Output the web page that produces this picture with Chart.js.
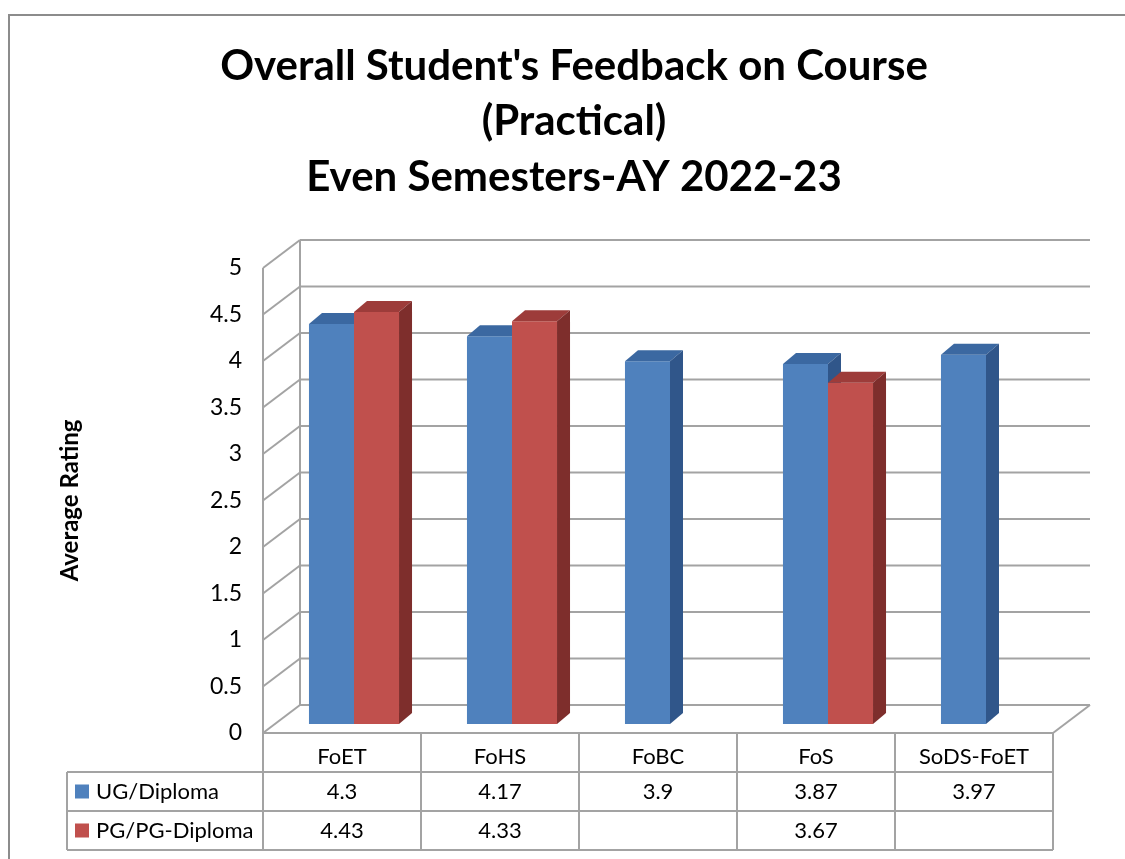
<!DOCTYPE html>
<html>
<head>
<meta charset="utf-8">
<title>Overall Student's Feedback on Course (Practical)</title>
<script src="https://cdn.jsdelivr.net/npm/chart.js@4.4.0/dist/chart.umd.min.js"></script>
<style>
  html, body { margin: 0; padding: 0; background: #fff; }
  canvas { display: block; }
</style>
</head>
<body>
<canvas id="chart" width="1125" height="859"></canvas>
<script>
// data
const categories = ['FoET', 'FoHS', 'FoBC', 'FoS', 'SoDS-FoET'];
const ugValues = [4.3, 4.17, 3.9, 3.87, 3.97];
const pgValues = [4.43, 4.33, null, 3.67, null];
const seriesNames = ['UG/Diploma', 'PG/PG-Diploma'];
const titleLines = ["Overall Student's Feedback on Course", '(Practical)', 'Even Semesters-AY 2022-23'];

const FONT = 'Lato, "Open Sans", "Noto Sans", sans-serif';
const frontColors = ['#4f81bd', '#c0504d'];
const topColors = ['#3b68a1', '#9d3c3a'];
const sideColors = ['#30568a', '#7e2e2c'];
const gridColor = '#a3a3a3';

// depth of the box (back wall) and of the bars
const DX = 37, DY = -28;
const BAR_DX = 12, BAR_DY = -9;
const BAR_DEPTH_X = 13, BAR_DEPTH_Y = -11;

function line(ctx, x1, y1, x2, y2) {
    ctx.beginPath();
    ctx.moveTo(x1, y1);
    ctx.lineTo(x2, y2);
    ctx.stroke();
}

function poly(ctx, pts, color) {
    ctx.beginPath();
    ctx.moveTo(pts[0][0], pts[0][1]);
    for (let i = 1; i < pts.length; i++) ctx.lineTo(pts[i][0], pts[i][1]);
    ctx.closePath();
    ctx.fillStyle = color;
    ctx.fill();
}

const boxPlugin = {
    id: 'box3d',
    beforeDraw(chart) {
        const ctx = chart.ctx;
        ctx.save();
        ctx.fillStyle = '#fff';
        ctx.fillRect(0, 0, chart.width, chart.height);
        // outer chart border
        ctx.strokeStyle = '#8c8c8c';
        ctx.lineWidth = 2;
        ctx.strokeRect(9, 15, chart.width + 20, chart.height + 20);
        // title
        ctx.fillStyle = '#000';
        ctx.font = 'bold 42px ' + FONT;
        ctx.textAlign = 'center';
        ctx.textBaseline = 'middle';
        [66, 121, 177].forEach((y, i) => ctx.fillText(titleLines[i], 574, y));
        ctx.restore();
    },
    beforeDatasetsDraw(chart) {
        const ctx = chart.ctx;
        const {left: L, right: R, top: T, bottom: B} = chart.chartArea;
        const y = chart.scales.y;
        ctx.save();
        ctx.strokeStyle = gridColor;
        ctx.lineWidth = 2;
        y.ticks.forEach(t => {
            const yy = y.getPixelForValue(t.value);
            line(ctx, L + DX, yy + DY, R + DX, yy + DY);
            line(ctx, L, yy, L + DX, yy + DY);
        });
        line(ctx, L, T, L, B);
        line(ctx, L + DX, T + DY, L + DX, B + DY);
        // floor front and right edge
        line(ctx, L, B, R, B);
        line(ctx, R, B, R + DX, B + DY);
        ctx.restore();
    },
    afterDatasetsDraw(chart) {
        const ctx = chart.ctx;
        ctx.save();
        const n = categories.length;
        for (let i = 0; i < n; i++) {
            chart.data.datasets.forEach((ds, d) => {
                const meta = chart.getDatasetMeta(d);
                const el = meta.data[i];
                if (!el || ds.data[i] === null) return;
                const l = el.x - el.width / 2 + BAR_DX;
                const r = el.x + el.width / 2 + BAR_DX;
                const t = el.y + BAR_DY;
                const b = el.base + BAR_DY;
                poly(ctx, [[l, t], [r, t], [r, b], [l, b]], frontColors[d]);
                poly(ctx, [[l, t], [r, t], [r + BAR_DEPTH_X, t + BAR_DEPTH_Y], [l + BAR_DEPTH_X, t + BAR_DEPTH_Y]], topColors[d]);
                poly(ctx, [[r, t], [r + BAR_DEPTH_X, t + BAR_DEPTH_Y], [r + BAR_DEPTH_X, b + BAR_DEPTH_Y], [r, b]], sideColors[d]);
            });
        }
        ctx.restore();
    },
    afterDraw(chart) {
        // data table under the plot
        const ctx = chart.ctx;
        const {left: L, right: R, bottom: B} = chart.chartArea;
        const x = chart.scales.x;
        const colW = (R - L) / categories.length;
        const rowLines = [772, 811, 850];
        const tableLeft = 67;
        ctx.save();
        ctx.strokeStyle = gridColor;
        ctx.lineWidth = 2;
        for (let i = 0; i <= categories.length; i++) {
            line(ctx, L + i * colW, B, L + i * colW, rowLines[2]);
        }
        rowLines.forEach(yy => line(ctx, tableLeft, yy, R, yy));
        line(ctx, tableLeft, rowLines[0], tableLeft, rowLines[2]);

        ctx.fillStyle = '#000';
        ctx.font = '22px ' + FONT;
        ctx.textAlign = 'center';
        ctx.textBaseline = 'middle';
        categories.forEach((c, i) => {
            ctx.fillText(c, x.getPixelForValue(i), 757);
        });
        const rows = [ugValues, pgValues];
        rows.forEach((vals, r) => {
            const cy = (rowLines[r] + rowLines[r + 1]) / 2;
            vals.forEach((v, i) => {
                if (v === null) return;
                ctx.fillText(String(v), x.getPixelForValue(i), cy);
            });
            ctx.fillStyle = frontColors[r];
            ctx.fillRect(75, cy - 7, 14, 14);
            ctx.fillStyle = '#000';
            ctx.textAlign = 'left';
            ctx.fillText(seriesNames[r], 96, cy);
            ctx.textAlign = 'center';
        });
        ctx.restore();
    }
};

new Chart(document.getElementById('chart'), {
    type: 'bar',
    data: {
        labels: categories,
        datasets: [
            {label: seriesNames[0], data: ugValues, backgroundColor: 'rgba(0,0,0,0)'},
            {label: seriesNames[1], data: pgValues, backgroundColor: 'rgba(0,0,0,0)'}
        ]
    },
    options: {
        responsive: false,
        animation: false,
        layout: {padding: {top: 268, right: 72, bottom: 126, left: 48}},
        datasets: {bar: {categoryPercentage: 0.57, barPercentage: 1}},
        plugins: {
            legend: {display: false},
            title: {display: false},
            tooltip: {enabled: false}
        },
        scales: {
            x: {display: false},
            y: {
                min: 0,
                max: 5,
                afterFit: (scale) => { scale.width = 215; },
                grid: {display: false},
                border: {display: false},
                ticks: {
                    stepSize: 0.5,
                    padding: 13,
                    color: '#000',
                    font: {family: FONT, size: 23},
                    callback: (v) => String(v)
                },
                title: {
                    display: true,
                    text: 'Average Rating',
                    color: '#000',
                    padding: {top: 8, bottom: 0},
                    font: {family: FONT, size: 24, weight: 'bold'}
                }
            }
        }
    },
    plugins: [boxPlugin]
});
</script>
</body>
</html>
